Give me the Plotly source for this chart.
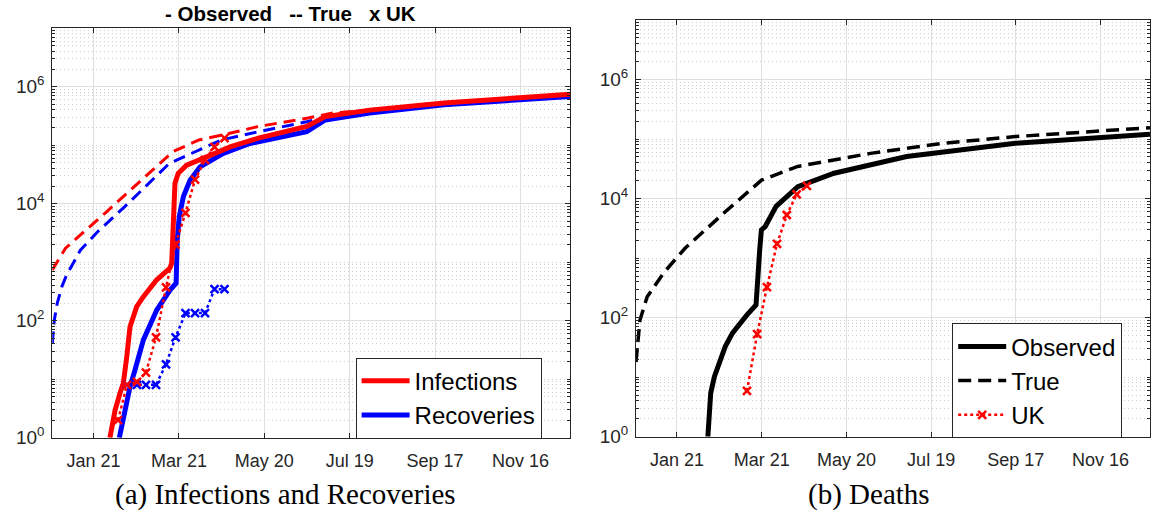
import pandas as pd
import plotly.graph_objects as go

W, H = 1151, 516
START = pd.Timestamp("2019-12-23")
END = pd.Timestamp("2020-12-21")

# x values are days since START, y values are counts (log axis)
inf_obs_days = [40.5, 41.7, 44.1, 47.6, 49.9, 52.3, 54.6, 59.3, 64.0, 73.4, 82.7, 83.9,
                84.6, 85.0, 86.2, 88.5, 94.4, 108.5, 124.9, 144.8, 178.8, 191.8, 223, 275.3, 364]
inf_obs_vals = [1, 1.55, 2.95, 5.8, 8.5, 24, 79, 174, 257, 500, 794, 955,
                2400, 8900, 22400, 33100, 45700, 63100, 93300, 132000, 209000, 309000, 398000, 525000, 745000]

rec_obs_days = [47.1, 49.9, 52.3, 54.6, 58.1, 64.0, 73.4, 82.7, 87.0, 87.8, 89.2, 92.1,
                96.8, 103.8, 120.2, 138.9, 178.8, 191.8, 223, 275.3, 364]
rec_obs_vals = [1, 2.3, 3.9, 7.4, 14.4, 47, 152, 333, 436, 2400, 6000, 13200,
                25100, 42700, 72400, 107000, 170000, 270000, 355000, 490000, 680000]

inf_true_days = [0, 4, 9.3, 37.9, 66.6, 84.8, 103.1, 124, 144.8, 178.8, 197, 223, 275.3, 364]
inf_true_vals = [735, 1070, 1740, 7200, 31000, 77600, 123000, 158000, 209000, 288000, 355000, 400000, 527000, 750000]

rec_true_days = [0, 1.4, 3.5, 6.7, 10, 14.5, 19.7, 32.7, 50.9, 82.3, 118.8, 144.8, 178.8, 197, 223, 275.3, 364]
rec_true_vals = [41, 102, 200, 380, 600, 950, 1600, 3470, 8900, 49000, 123000, 170000, 251000, 330000, 355000,
                 490000, 680000]

uk_inf_days = [46.2, 52.5, 59.5, 65.8, 72.9, 79.9, 86.6, 93.6, 100.3, 107.3, 114, 121]
uk_inf_vals = [2, 8, 9, 13, 52, 370, 2000, 7000, 25700, 56000, 94000, 132000]

uk_rec_days = [52.5, 59.5, 65.8, 72.9, 79.9, 86.6, 93.6, 100.3, 107.3, 114, 121]
uk_rec_vals = [8, 8, 8, 8, 18, 52, 135, 135, 135, 345, 345]

death_obs_days = [50.9, 52.9, 55.5, 59.4, 63.2, 68.3, 73.5, 78.6, 85, 86.3, 87.6, 88.8, 91.5, 99.2,
                  114.6, 140.3, 191.7, 268.7, 364]
death_obs_vals = [1, 5.4, 10.2, 19.5, 32.6, 55, 81, 111, 163, 820, 1380, 2980, 3390, 7400,
                  15800, 26700, 51000, 85000, 120000]

death_true_days = [0, 2.8, 7.9, 19.5, 34.9, 63.2, 88.9, 114.6, 166, 217.4, 268.7, 364]
death_true_vals = [18, 91, 224, 562, 1480, 6000, 20400, 34700, 57500, 85000, 110000, 155000]

uk_death_days = [78.6, 85.8, 92.7, 99.9, 106.8, 113.8, 121]
uk_death_vals = [5.9, 53, 325, 1740, 5300, 11800, 16300]

tick_dates = ["2020-01-21", "2020-03-21", "2020-05-20", "2020-07-19", "2020-09-17", "2020-11-16"]
tick_labels = ["Jan 21", "Mar 21", "May 20", "Jul 19", "Sep 17", "Nov 16"]
ytick_vals = [1, 1e2, 1e4, 1e6]
ytick_labels = ["10<sup>0</sup>", "10<sup>2</sup>", "10<sup>4</sup>", "10<sup>6</sup>"]

RED, BLUE, BLACK = "#ff0000", "#0000ff", "#000000"
AXIS = "#262626"
SANS = "Liberation Sans, Arial, sans-serif"
SERIF = "Liberation Serif, Times New Roman, serif"


def to_dates(days):
    return START + pd.to_timedelta(days, unit="D")


def px(x):
    return x / W


def py(y):
    return 1 - y / H


fig = go.Figure()


def line(days, vals, color, width, dash, name, axis, legend=None, marker=False):
    fig.add_trace(go.Scatter(
        x=to_dates(days),
        y=vals,
        mode="lines+markers" if marker else "lines",
        line=dict(color=color, width=width, dash=dash),
        marker=dict(symbol="x-thin", size=8, color=color, line=dict(width=2.5, color=color)),
        name=name,
        xaxis="x" if axis == 1 else "x2",
        yaxis="y" if axis == 1 else "y2",
        showlegend=legend is not None,
        legend=legend or "legend",
        hoverinfo="skip",
    ))


# (a) infections and recoveries
line(inf_true_days, inf_true_vals, RED, 3, "12px,7px", "Infections true", 1)
line(rec_true_days, rec_true_vals, BLUE, 3, "12px,7px", "Recoveries true", 1)
line(rec_obs_days, rec_obs_vals, BLUE, 5, "solid", "Recoveries", 1, legend="legend")
line(inf_obs_days, inf_obs_vals, RED, 5, "solid", "Infections", 1, legend="legend")
line(uk_rec_days, uk_rec_vals, BLUE, 2.5, "dot", "UK recoveries", 1, marker=True)
line(uk_inf_days, uk_inf_vals, RED, 2.5, "dot", "UK infections", 1, marker=True)

# (b) deaths
line(death_obs_days, death_obs_vals, BLACK, 5, "solid", "Observed", 2, legend="legend2")
line(death_true_days, death_true_vals, BLACK, 3.5, "13px,7px", "True", 2, legend="legend2")
line(uk_death_days, uk_death_vals, RED, 2.5, "dot", "UK", 2, legend="legend2", marker=True)

xaxis_style = dict(
    type="date",
    range=[START, END],
    tickvals=tick_dates,
    ticktext=tick_labels,
    ticks="inside",
    ticklen=5,
    tickcolor=AXIS,
    ticklabelstandoff=7,
    showline=True,
    linecolor=AXIS,
    linewidth=1,
    mirror="allticks",
    showgrid=True,
    gridcolor="#dfdfdf",
    gridwidth=1,
    zeroline=False,
    automargin=False,
    tickfont=dict(family=SANS, size=18, color=AXIS),
)

yaxis_style = dict(
    type="log",
    range=[0, 7],
    tickvals=ytick_vals,
    ticktext=ytick_labels,
    ticks="inside",
    ticklen=5,
    tickcolor=AXIS,
    ticklabelstandoff=3,
    showline=True,
    linecolor=AXIS,
    linewidth=1,
    mirror="allticks",
    showgrid=True,
    gridcolor="#dfdfdf",
    gridwidth=1,
    zeroline=False,
    automargin=False,
    tickfont=dict(family=SANS, size=19, color=AXIS),
    minor=dict(
        dtick="D1",
        ticks="inside",
        ticklen=3,
        tickcolor=AXIS,
        showgrid=True,
        gridcolor="#cfcfcf",
        griddash="1px,3px",
        gridwidth=1,
    ),
)

legend_style = dict(
    bgcolor="white",
    bordercolor=AXIS,
    borderwidth=1,
    font=dict(family=SANS, size=24, color="black"),
    xanchor="left",
    yanchor="top",
    itemwidth=48,
)


def caption(text, x, y, size, family, bold=False):
    return dict(text=f"<b>{text}</b>" if bold else text,
                x=px(x), y=py(y), xref="paper", yref="paper",
                xanchor="center", yanchor="middle", showarrow=False,
                font=dict(family=family, size=size, color="black"))


NB = "\u00a0"
title_text = f"-{NB}Observed{NB * 3}--{NB}True{NB * 3}x{NB}UK"

fig.update_layout(
    width=W,
    height=H,
    margin=dict(l=0, r=0, t=0, b=0),
    paper_bgcolor="white",
    plot_bgcolor="white",
    xaxis=dict(xaxis_style, domain=[px(52.3), px(570.3)], anchor="y"),
    yaxis=dict(yaxis_style, domain=[py(437.7), py(28.2)], anchor="x"),
    xaxis2=dict(xaxis_style, domain=[px(636), px(1150)], anchor="y2"),
    yaxis2=dict(yaxis_style, domain=[py(436.7), py(20)], anchor="x2"),
    legend=dict(legend_style, x=px(355.6), y=py(357.7), traceorder="reversed"),
    legend2=dict(legend_style, x=px(952.2), y=py(323.3), traceorder="normal"),
    annotations=[
        caption(title_text, 290, 13, 20.5, SANS, bold=True),
        caption("(a) Infections and Recoveries", 285, 494, 29, SERIF),
        caption("(b) Deaths", 868.7, 494, 29, SERIF),
    ],
)

# the page body has a default 8px margin; drop it so the figure sits at the corner
fig.write_html("out.html", config={"displayModeBar": False},
               post_script="document.body.style.margin = '0';")
